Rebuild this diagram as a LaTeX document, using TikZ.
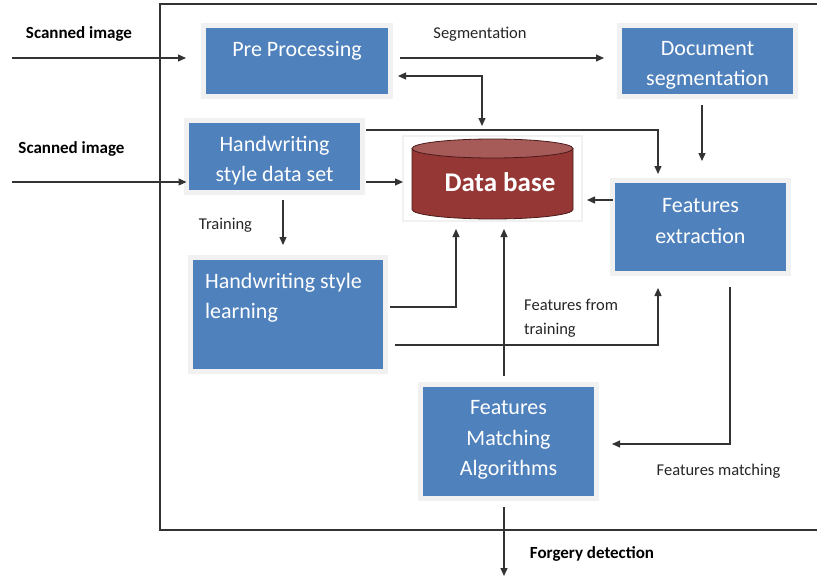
\documentclass[tikz,border=0pt]{standalone}
\usepackage{fontspec}
\setmainfont{Carlito}
\usetikzlibrary{arrows.meta,calc}
\definecolor{boxblue}{HTML}{4F81BD}
\definecolor{boxrim}{HTML}{F1F1F1}
\definecolor{dbbody}{HTML}{953735}
\definecolor{dbtop}{HTML}{A65B59}
\definecolor{dbline}{HTML}{4B1B1A}
\definecolor{wire}{HTML}{333333}
\definecolor{labeltext}{HTML}{262626}

\begin{document}
\begin{tikzpicture}[x=1pt,y=-1pt,
  blockbox/.style={rectangle, fill=boxblue, draw=boxrim, line width=5pt,
    outer sep=0pt, inner sep=0pt},
  blocktext/.style={text=white, font=\fontsize{22}{30.5}\selectfont,
    align=center, inner sep=0pt},
  lbl/.style={text=labeltext, font=\fontsize{16.5}{24}\selectfont, inner sep=0pt},
  boldlbl/.style={text=black, font=\fontsize{17}{24}\selectfont\bfseries, inner sep=0pt},
  arr/.style={draw=wire, line width=1.2pt, -{Triangle[length=8pt,width=7pt]}},
  arrboth/.style={draw=wire, line width=1.2pt,
    {Triangle[length=8pt,width=7pt]}-{Triangle[length=8pt,width=7pt]}}]

\useasboundingbox (0,0) rectangle (817,578);

% frame around the system
\draw[draw=wire, line width=1.1pt] (840,4) -- (160,4) -- (160,530) -- (840,530);

% processing blocks
\node[blockbox, minimum width=187pt, minimum height=71pt] (pre) at (297,61) {};
\node[blockbox, minimum width=176pt, minimum height=72pt] (hds) at (274.5,156.5) {};
\node[blockbox, minimum width=176pt, minimum height=71pt] (doc) at (707.5,61) {};
\node[blockbox, minimum width=176pt, minimum height=93pt] (fe) at (700.5,227) {};
\node[blockbox, minimum width=195pt, minimum height=114pt] (hsl) at (288,314.5) {};
\node[blockbox, minimum width=176pt, minimum height=114pt] (fma) at (508.5,441.5) {};

\node[blocktext] (pre-t) at (297,50.5) {Pre Processing};
\node[blocktext] (hds-t) at (274.5,160.5) {Handwriting\\style data set};
\node[blocktext] (doc-t) at (707.5,65.5) {Document\\segmentation};
\node[blocktext] (fe-t) at (700.5,221) {Features\\extraction};
\node[blocktext, align=left, anchor=west] (hsl-t) at (205,298) {Handwriting style\\learning};
\node[blocktext] (fma-t) at (508.5,440) {Features\\Matching\\Algorithms};

% database
\node[rectangle, fill=white, draw=boxrim, line width=1.5pt, outer sep=0pt,
  minimum width=179pt, minimum height=85pt] (db) at (492.5,178.5) {};
\fill[dbbody] (412,148.5) -- (412,209.5)
  arc[start angle=180, end angle=360, x radius=80.5pt, y radius=9.5pt]
  -- (573,148.5) -- cycle;
\draw[dbline, line width=0.8pt] (412,148.5) -- (412,209.5)
  arc[start angle=180, end angle=360, x radius=80.5pt, y radius=9.5pt]
  -- (573,148.5);
\filldraw[fill=dbtop, draw=dbline, line width=0.8pt] (492.5,148.5)
  ellipse[x radius=80.5pt, y radius=9.5pt];
\node[text=white, font=\fontsize{27}{30}\selectfont\bfseries, inner sep=0pt]
  (db-t) at (500,182.5) {Data base};

% free ends
\coordinate (in1) at (12,58);
\coordinate (in2) at (12,182);
\coordinate (out) at (504,576);

% connectors
\draw[arr, shorten >=17.5pt] (in1) -- (in1 -| pre.west);
\draw[arr] (in2) -- (in2 -| hds.west);
\draw[arr, shorten <=9.5pt, shorten >=15.5pt] (pre.east |- 0,58) -- (doc.west |- 0,58);
\draw[arrboth, shorten <=7.5pt, shorten >=10pt] (pre.east |- 0,76) -| (db.north -| 482,0);
\draw[arr, shorten <=3.5pt, shorten >=6.5pt] (hds.east |- 0,130) -| (fe.north -| 658,0);
\draw[arr, shorten <=3.5pt] (hds.east |- 0,182) -- (db.west |- 0,182);
\draw[arr, shorten <=8.5pt, shorten >=19.5pt] (doc.south -| 702,0) -- (fe.north -| 702,0);
\draw[arr, shorten >=5pt] (fe.west |- 0,200) -- (db.east |- 0,200);
\draw[arr, shorten <=7.5pt, shorten >=12.5pt] (hds.south -| 283,0) -- (hsl.north -| 283,0);
\draw[arr, shorten <=4.5pt, shorten >=8pt] (hsl.east |- 0,307) -| (db.south -| 456,0);
\draw[arr, shorten <=9.5pt, shorten >=14.5pt] (hsl.east |- 0,345) -| (fe.south -| 658,0);
\draw[arr, shorten <=8.5pt, shorten >=8pt] (fma.north -| 504,0) -- (db.south -| 504,0);
\draw[arr, shorten <=13.5pt, shorten >=15.5pt] (fe.south -| 730,0) |- (fma.east |- 0,444);
\draw[arr, shorten <=8.5pt] (fma.south -| out) -- (out);

% connector labels
\node[boldlbl] (l-in1) at (79,34) {Scanned image};
\node[boldlbl] (l-in2) at (71.5,149) {Scanned image};
\node[lbl] (l-seg) at (480,34) {Segmentation};
\node[lbl] (l-train) at (225.5,225) {Training};
\node[lbl, align=left, anchor=west] (l-fft) at (524,318) {Features from\\training};
\node[lbl] (l-fm) at (718.5,471) {Features matching};
\node[boldlbl] (l-out) at (592,554) {Forgery detection};
\end{tikzpicture}
\end{document}
